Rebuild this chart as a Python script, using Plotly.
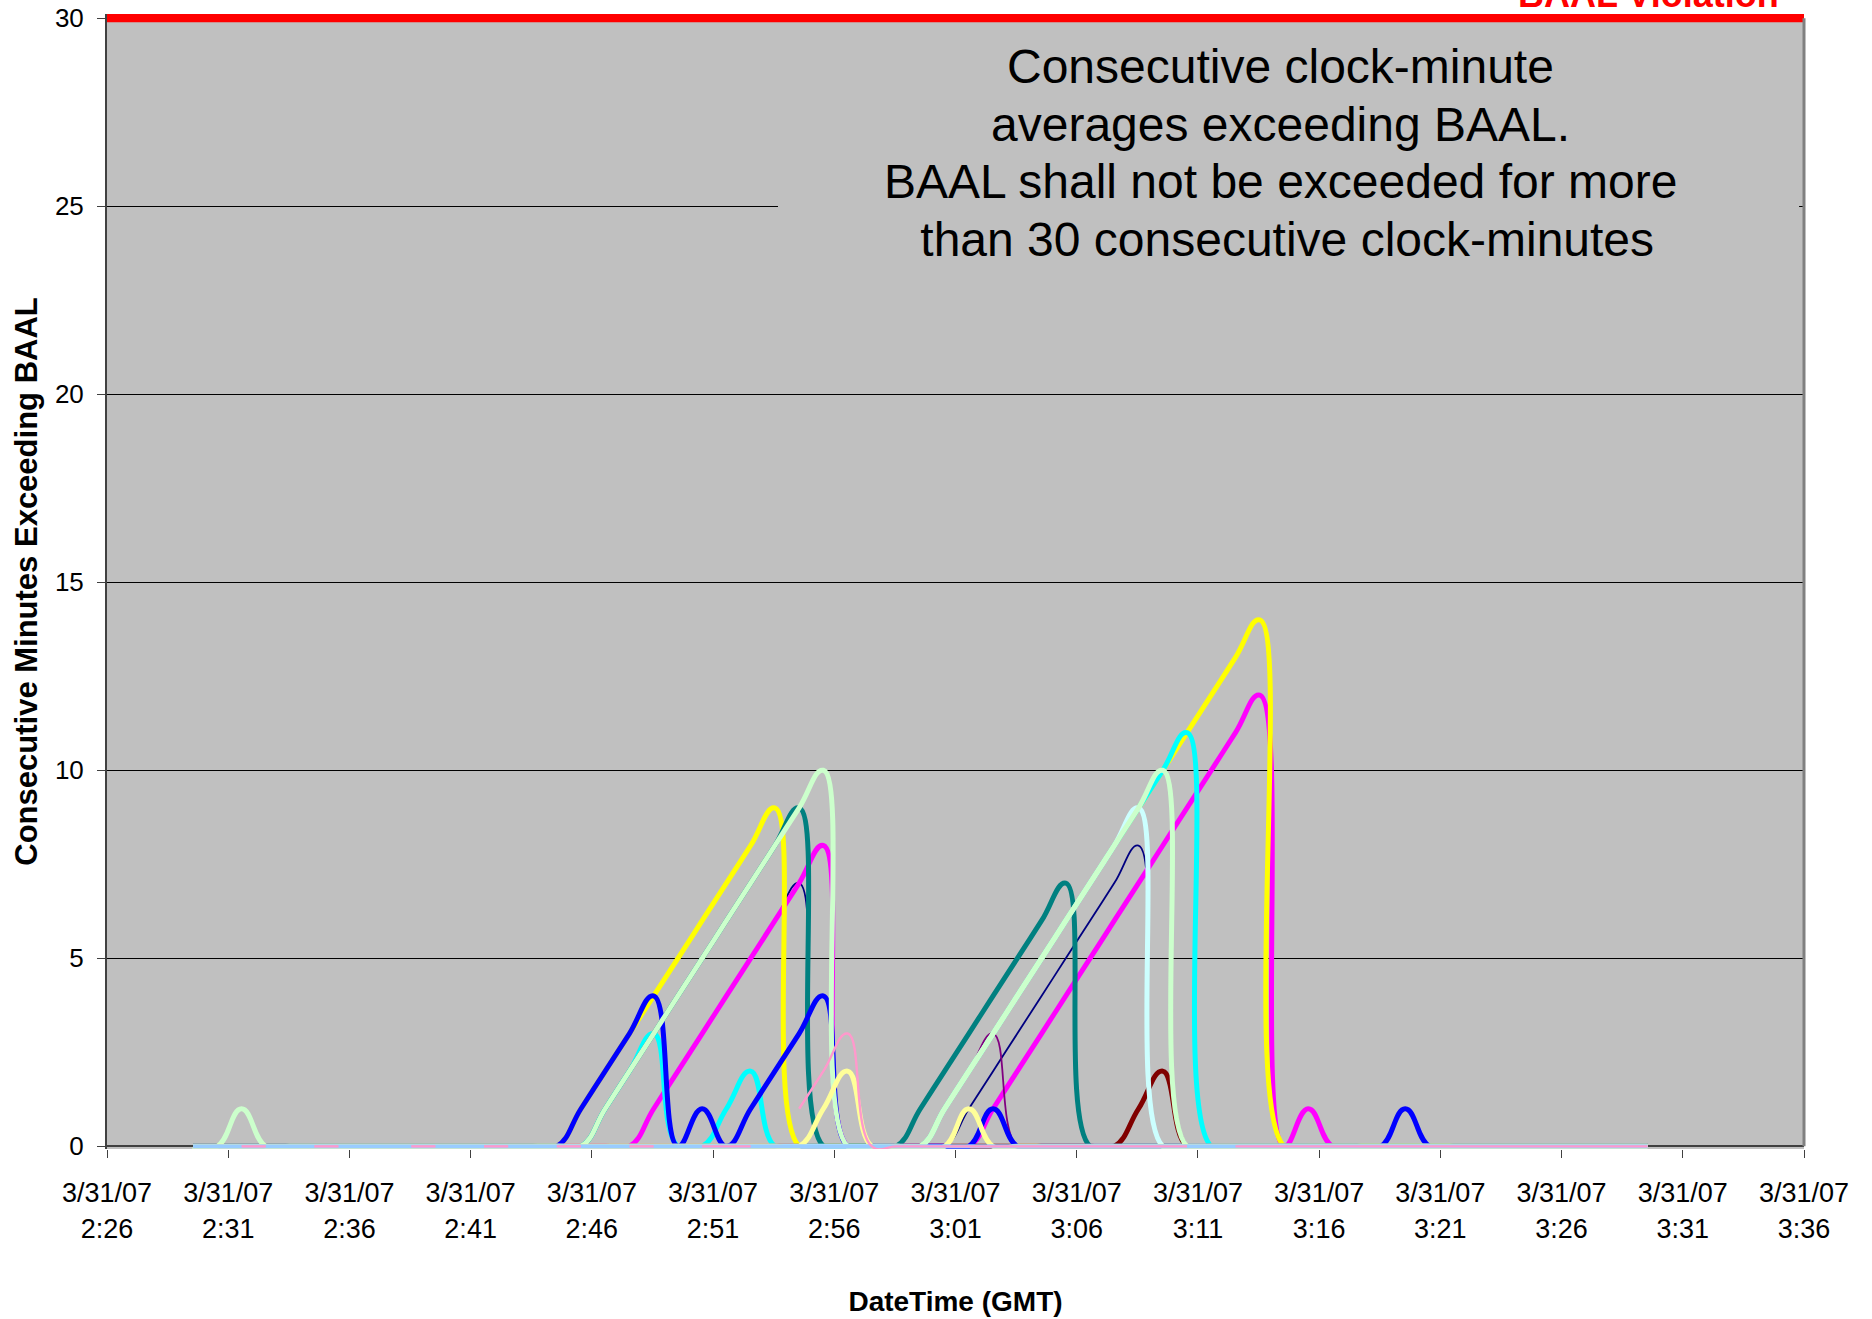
import plotly.graph_objects as go

FONT = "Liberation Sans, Arial, Helvetica, sans-serif"

DATE = "2007-03-31"
# clock-minute averages (one point per minute)
CLOCK = [
    "02:29:33", "02:30:33", "02:31:33", "02:32:33", "02:33:33", "02:34:33", "02:35:33", "02:36:33", "02:37:33", "02:38:33",
    "02:39:33", "02:40:33", "02:41:33", "02:42:33", "02:43:33", "02:44:33", "02:45:33", "02:46:33", "02:47:33", "02:48:33",
    "02:49:33", "02:50:33", "02:51:33", "02:52:33", "02:53:33", "02:54:33", "02:55:33", "02:56:33", "02:57:33", "02:58:33",
    "02:59:33", "03:00:33", "03:01:33", "03:02:33", "03:03:33", "03:04:33", "03:05:33", "03:06:33", "03:07:33", "03:08:33",
    "03:09:33", "03:10:33", "03:11:33", "03:12:33", "03:13:33", "03:14:33", "03:15:33", "03:16:33", "03:17:33", "03:18:33",
    "03:19:33", "03:20:33", "03:21:33", "03:22:33", "03:23:33", "03:24:33", "03:25:33", "03:26:33", "03:27:33", "03:28:33",
    "03:29:33",
]

NAVY = [0, 0, 0, 0, 0, 0, 0, 0, 0, 0,
        0, 0, 0, 0, 0, 0, 0, 0, 0, 1,
        2, 3, 4, 5, 6, 7, 0, 0, 0, 0,
        0, 0, 1, 2, 3, 4, 5, 6, 7, 8,
        0, 0, 0, 0, 0, 0, 0, 0, 0, 0,
        0, 0, 0, 0, 0, 0, 0, 0, 0, 0,
        0]
MAGENTA = [0, 0, 0, 0, 0, 0, 0, 0, 0, 0,
           0, 0, 0, 0, 0, 0, 0, 0, 0, 1,
           2, 3, 4, 5, 6, 7, 8, 0, 0, 0,
           0, 0, 0, 1, 2, 3, 4, 5, 6, 7,
           8, 9, 10, 11, 12, 0, 1, 0, 0, 0,
           0, 0, 0, 0, 0, 0, 0, 0, 0, 0,
           0]
YELLOW = [0, 0, 0, 0, 0, 0, 0, 0, 0, 0,
          0, 0, 0, 0, 0, 0, 1, 2, 3, 4,
          5, 6, 7, 8, 9, 0, 0, 0, 0, 0,
          0, 1, 2, 3, 4, 5, 6, 7, 8, 9,
          10, 11, 12, 13, 14, 0, 0, 0, 0, 0,
          0, 0, 0, 0, 0, 0, 0, 0, 0, 0,
          0]
CYAN = [0, 0, 0, 0, 0, 0, 0, 0, 0, 0,
        0, 0, 0, 0, 0, 0, 0, 1, 2, 3,
        0, 0, 1, 2, 0, 0, 0, 0, 0, 0,
        0, 1, 2, 3, 4, 5, 6, 7, 8, 9,
        10, 11, 0, 0, 0, 0, 0, 0, 0, 0,
        0, 0, 0, 0, 0, 0, 0, 0, 0, 0,
        0]
PURPLE = [0, 0, 0, 0, 0, 0, 0, 0, 0, 0,
          0, 0, 0, 0, 0, 0, 0, 0, 0, 0,
          0, 0, 0, 0, 0, 0, 0, 0, 0, 0,
          0, 1, 2, 3, 0, 0, 0, 0, 0, 0,
          0, 0, 0, 0, 0, 0, 0, 0, 0, 0,
          0, 0, 0, 0, 0, 0, 0, 0, 0, 0,
          0]
MAROON = [0, 0, 0, 0, 0, 0, 0, 0, 0, 0,
          0, 0, 0, 0, 0, 0, 0, 0, 0, 0,
          0, 0, 0, 0, 0, 0, 0, 0, 0, 0,
          0, 0, 0, 0, 0, 0, 0, 0, 0, 1,
          2, 0, 0, 0, 0, 0, 0, 0, 0, 0,
          0, 0, 0, 0, 0, 0, 0, 0, 0, 0,
          0]
TEAL = [0, 0, 0, 0, 0, 0, 0, 0, 0, 0,
        0, 0, 0, 0, 0, 0, 0, 1, 2, 3,
        4, 5, 6, 7, 8, 9, 0, 0, 0, 0,
        1, 2, 3, 4, 5, 6, 7, 0, 0, 0,
        0, 0, 0, 0, 0, 0, 0, 0, 0, 0,
        0, 0, 0, 0, 0, 0, 0, 0, 0, 0,
        0]
BLUE = [0, 0, 0, 0, 0, 0, 0, 0, 0, 0,
        0, 0, 0, 0, 0, 0, 1, 2, 3, 4,
        0, 1, 0, 1, 2, 3, 4, 0, 0, 0,
        0, 0, 0, 1, 0, 0, 0, 0, 0, 0,
        0, 0, 0, 0, 0, 0, 0, 0, 0, 0,
        1, 0, 0, 0, 0, 0, 0, 0, 0, 0,
        0]
LIGHT_CYAN = [0, 0, 0, 0, 0, 0, 0, 0, 0, 0,
              0, 0, 0, 0, 0, 0, 0, 0, 0, 0,
              0, 0, 0, 0, 0, 0, 0, 0, 0, 0,
              0, 1, 2, 3, 4, 5, 6, 7, 8, 9,
              0, 0, 0, 0, 0, 0, 0, 0, 0, 0,
              0, 0, 0, 0, 0, 0, 0, 0, 0, 0,
              0]
LIGHT_GREEN = [0, 0, 1, 0, 0, 0, 0, 0, 0, 0,
               0, 0, 0, 0, 0, 0, 0, 1, 2, 3,
               4, 5, 6, 7, 8, 9, 10, 0, 0, 0,
               0, 1, 2, 3, 4, 5, 6, 7, 8, 9,
               10, 0, 0, 0, 0, 0, 0, 0, 0, 0,
               0, 0, 0, 0, 0, 0, 0, 0, 0, 0,
               0]
LIGHT_YELLOW = [0, 0, 0, 0, 0, 0, 0, 0, 0, 0,
                0, 0, 0, 0, 0, 0, 0, 0, 0, 0,
                0, 0, 0, 0, 0, 0, 1, 2, 0, 0,
                0, 0, 1, 0, 0, 0, 0, 0, 0, 0,
                0, 0, 0, 0, 0, 0, 0, 0, 0, 0,
                0, 0, 0, 0, 0, 0, 0, 0, 0, 0,
                0]
PALE_BLUE = [0, 0, 0, 0, 0, 0, 0, 0, 0, 0,
             0, 0, 0, 0, 0, 0, 0, 0, 0, 0,
             0, 0, 0, 0, 0, 0, 0, 0, 0, 0,
             0, 0, 0, 0, 0, 0, 0, 0, 0, 0,
             0, 0, 0, 0, 0, 0, 0, 0, 0, 0,
             0, 0, 0, 0, 0, 0, 0, 0, 0, 0,
             0]
ROSE = [None, None, 0, 0, None, 0, 0, None, None, 0,
        0, None, 0, 0, None, 0, 0, None, 0, 0,
        None, 0, 0, 0, None, 1, 2, 3, 0, 0,
        0, 0, 0, 0, 0, 0, 0, 0, 0, 0,
        0, 0, None, 0, 0, 0, 0, 0, 0, 0,
        0, 0, 0, 0, 0, 0, 0, 0, 0, 0,
        0]

BAAL_TIMES = ["2007-03-31 02:26:00", "2007-03-31 03:36:00"]
BAAL_VALUES = [30, 30]

TICK_TIMES = ["02:26", "02:31", "02:36", "02:41", "02:46", "02:51", "02:56", "03:01",
              "03:06", "03:11", "03:16", "03:21", "03:26", "03:31", "03:36"]
TICK_LABELS = ["3/31/07<br>2:26", "3/31/07<br>2:31", "3/31/07<br>2:36", "3/31/07<br>2:41",
               "3/31/07<br>2:46", "3/31/07<br>2:51", "3/31/07<br>2:56", "3/31/07<br>3:01",
               "3/31/07<br>3:06", "3/31/07<br>3:11", "3/31/07<br>3:16", "3/31/07<br>3:21",
               "3/31/07<br>3:26", "3/31/07<br>3:31", "3/31/07<br>3:36"]
Y_TICKS = [0, 5, 10, 15, 20, 25, 30]

NOTE_LINES = ["Consecutive clock-minute", "averages exceeding BAAL.",
              "BAAL shall not be exceeded for more", " than 30 consecutive clock-minutes"]

X = [DATE + " " + c for c in CLOCK]

SERIES = [
    (NAVY, "#000080", 1.8),
    (MAGENTA, "#FF00FF", 5),
    (YELLOW, "#FFFF00", 5),
    (CYAN, "#00FFFF", 5),
    (PURPLE, "#800080", 1.8),
    (MAROON, "#800000", 5),
    (TEAL, "#008080", 5),
    (BLUE, "#0000FF", 5),
    (LIGHT_CYAN, "#CCFFFF", 5),
    (LIGHT_GREEN, "#CCFFCC", 5),
    (LIGHT_YELLOW, "#FFFF99", 5),
    (PALE_BLUE, "#99CCFF", 4.2),
    (ROSE, "#FF99CC", 2.4),
]

fig = go.Figure()
for vals, col, w in SERIES:
    fig.add_trace(go.Scatter(x=X, y=vals, mode="lines",
                             line=dict(color=col, width=w, shape="spline", smoothing=1.3),
                             showlegend=False, hoverinfo="skip"))

fig.add_trace(go.Scatter(x=BAAL_TIMES, y=BAAL_VALUES, mode="lines",
                         line=dict(color="#FF0000", width=8.4), showlegend=False,
                         hoverinfo="skip"))

fig.update_layout(
    width=1872, height=1319,
    margin=dict(l=107, r=68, t=14, b=170, pad=0, autoexpand=False),
    paper_bgcolor="white", plot_bgcolor="#C0C0C0",
    font=dict(family=FONT, color="black"),
    showlegend=False,
)

fig.update_xaxes(
    type="date", automargin=False,
    range=["2007-03-31 02:26:00", "2007-03-31 03:36:00"],
    tickmode="array",
    tickvals=[DATE + " " + t for t in TICK_TIMES],
    ticktext=TICK_LABELS,
    ticks="outside", ticklen=8, tickwidth=1, tickcolor="#404040",
    ticklabelstandoff=12,
    showline=False, showgrid=False, zeroline=False,
    tickfont=dict(size=27, family=FONT, color="black"),
    title=dict(text="<b>DateTime (GMT)</b>", font=dict(size=28, family=FONT, color="black"),
               standoff=48),
)

fig.update_yaxes(
    automargin=False,
    range=[-0.07, 30.11],
    tickmode="array", tickvals=Y_TICKS,
    ticks="outside", ticklen=8, tickwidth=1, tickcolor="#404040",
    ticklabelstandoff=8,
    showline=True, linecolor="#404040", linewidth=2,
    showgrid=True, gridcolor="#000000", gridwidth=1,
    zeroline=True, zerolinecolor="#404040", zerolinewidth=2,
    tickfont=dict(size=26, family=FONT, color="black"),
    title=dict(text="<b>Consecutive Minutes Exceeding BAAL</b>",
               font=dict(size=31, family=FONT, color="black"), standoff=8),
)

# text box (covers the gridline behind the note)
fig.add_shape(type="rect", xref="paper", yref="paper",
              x0=0.3954, x1=0.9971, y0=0.7789, y1=0.9859,
              fillcolor="#C0C0C0", line=dict(width=0), layer="above")
# right border of the plot area
fig.add_shape(type="line", xref="paper", yref="y", x0=1, x1=1, y0=0, y1=30,
              line=dict(color="#808080", width=3))

NOTE_X = [0.6918, 0.6918, 0.6918, 0.6918]
NOTE_Y = [0.9534, 0.9029, 0.8524, 0.8016]
for txt, xx, yy in zip(NOTE_LINES, NOTE_X, NOTE_Y):
    fig.add_annotation(text=txt, xref="paper", yref="paper", x=xx, y=yy,
                       xanchor="center", yanchor="middle", showarrow=False,
                       font=dict(size=48, family=FONT, color="black"))

fig.add_annotation(text="<b>BAAL Violation</b>", xref="paper", yref="paper",
                   x=0.9081, y=1, xanchor="center", yanchor="middle", yshift=20,
                   showarrow=False, font=dict(size=36, family=FONT, color="#FF0000"))

fig.write_html("out.html", config={"displayModeBar": False},
               post_script="document.body.style.margin='0';")
